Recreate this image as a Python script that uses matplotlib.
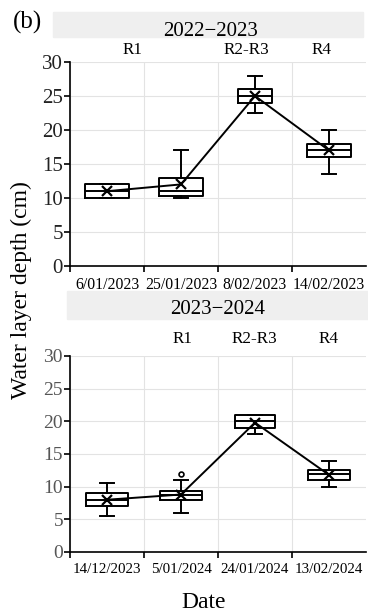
import matplotlib
matplotlib.use('Agg')
import matplotlib.pyplot as plt
from matplotlib.patches import Rectangle

plt.rcParams['font.family'] = ['Liberation Serif', 'DejaVu Serif']

# Season 2022-2023
dates_1 = ['6/01/2023', '25/01/2023', '8/02/2023', '14/02/2023']
whislo_1 = [10, 10, 22.5, 13.5]
q1_1 = [10, 10.3, 24, 16]
med_1 = [11, 11, 25, 17]
q3_1 = [12, 13, 26, 18]
whishi_1 = [12, 17, 28, 20]
mean_1 = [11, 12, 25, 17]
fliers_1 = [[], [], [], []]

# Season 2023-2024
dates_2 = ['14/12/2023', '5/01/2024', '24/01/2024', '13/02/2024']
whislo_2 = [5.5, 6, 18, 10]
q1_2 = [7, 8, 19, 11]
med_2 = [8, 8.7, 20, 12]
q3_2 = [9, 9.3, 21, 12.6]
whishi_2 = [10.5, 11, 21, 14]
mean_2 = [8, 8.8, 19.8, 11.8]
fliers_2 = [[], [12], [], []]

stages = ['R1', 'R2-R3', 'R4']

W, H = 368, 615
fig = plt.figure(figsize=(W / 100, H / 100), dpi=100)


def px(x, y):
    return x / W, 1 - y / H


def draw_panel(ax, dates, lo, q1, med, q3, hi, mean, fliers, widths,
               tick_color, ytick_size, xtick_size):
    stats = []
    for i in range(len(dates)):
        stats.append(dict(whislo=lo[i], q1=q1[i], med=med[i], q3=q3[i],
                          whishi=hi[i], fliers=fliers[i]))
    pos = list(range(len(dates)))
    ax.bxp(stats, positions=pos, widths=widths, capwidths=0.2,
           boxprops=dict(color='black', linewidth=1.4),
           medianprops=dict(color='black', linewidth=1.4),
           whiskerprops=dict(color='black', linewidth=1.4),
           capprops=dict(color='black', linewidth=1.4),
           flierprops=dict(marker='o', markersize=3.5, markerfacecolor='white',
                           markeredgecolor='black', markeredgewidth=1.2),
           manage_ticks=False)
    ax.plot(pos, mean, color='black', linewidth=1.4, marker='x',
            markersize=7, markeredgewidth=1.6, zorder=5)
    ax.set_xlim(-0.5, len(dates) - 0.5)
    ax.set_ylim(0, 30)
    ax.set_yticks(range(0, 31, 5))
    ax.set_xticks(pos)
    ax.set_xticklabels(dates, fontsize=xtick_size)
    ax.set_xticks([p + 0.5 for p in pos[:-1]] + [-0.5], minor=True)
    ax.tick_params(axis='x', which='major', length=0, pad=8)
    ax.tick_params(axis='x', which='minor', length=4, width=1.2)
    ax.tick_params(axis='y', length=4, width=1.2, labelsize=ytick_size,
                   labelcolor=tick_color, pad=1)
    ax.grid(True, axis='y', which='major', color='#e3e3e3', linewidth=0.8)
    ax.grid(True, axis='x', which='minor', color='#e3e3e3', linewidth=0.8)
    ax.set_axisbelow(True)
    for s in ['top', 'right']:
        ax.spines[s].set_visible(False)
    for s in ['left', 'bottom']:
        ax.spines[s].set_linewidth(1.2)


# top panel
l, b = px(70, 266)
_, t = px(70, 62)
ax1 = fig.add_axes([l, b, 1 - l - 2 / W, t - b])
draw_panel(ax1, dates_1, whislo_1, q1_1, med_1, q3_1, whishi_1, mean_1,
           fliers_1, [0.6, 0.6, 0.47, 0.6], '#222222', 15, 11.3)

# bottom panel
l2, b2 = px(70, 552)
_, t2 = px(70, 356)
ax2 = fig.add_axes([l2, b2, 1 - l2 - 2 / W, t2 - b2])
draw_panel(ax2, dates_2, whislo_2, q1_2, med_2, q3_2, whishi_2, mean_2,
           fliers_2, [0.58, 0.57, 0.54, 0.57], '#555555', 14, 10.8)

# header bands
bx, by = px(53, 37)
fig.patches.append(Rectangle((bx, by), (363 - 53) / W, 25 / H,
                             transform=fig.transFigure, color='#efefef', zorder=0))
bx, by = px(67, 319)
fig.patches.append(Rectangle((bx, by), (368 - 67) / W, 28 / H,
                             transform=fig.transFigure, color='#efefef', zorder=0))

fig.text(*px(211, 31), '2022\u22122023', ha='center', va='center', fontsize=15)
fig.text(*px(218, 309), '2023\u22122024', ha='center', va='center', fontsize=15)

for name, x in zip(stages, [133, 246, 322]):
    fig.text(*px(x, 50), name, ha='center', va='center', fontsize=12.3)
for name, x in zip(stages, [183, 254, 329]):
    fig.text(*px(x, 339), name, ha='center', va='center', fontsize=12.3)

fig.text(*px(27, 22), '(b)', ha='center', va='center', fontsize=18)
fig.text(*px(21, 290), 'Water layer depth (cm)', ha='center', va='center',
         rotation=90, fontsize=17)
fig.text(*px(204, 602), 'Date', ha='center', va='center', fontsize=17)

fig.savefig('out.png', dpi=100)
